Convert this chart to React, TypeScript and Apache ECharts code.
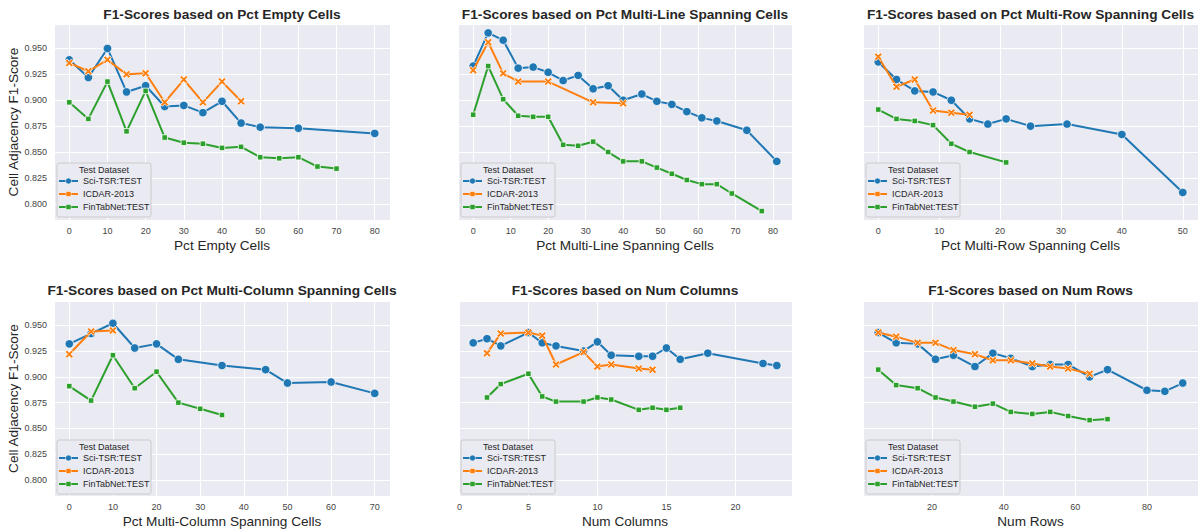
import React, { useEffect, useRef } from 'react';
import * as echarts from 'echarts';

// ---------- data ----------
const seriesNames = ['Sci-TSR:TEST', 'ICDAR-2013', 'FinTabNet:TEST'];
const panelTitles = [
  'F1-Scores based on Pct Empty Cells',
  'F1-Scores based on Pct Multi-Line Spanning Cells',
  'F1-Scores based on Pct Multi-Row Spanning Cells',
  'F1-Scores based on Pct Multi-Column Spanning Cells',
  'F1-Scores based on Num Columns',
  'F1-Scores based on Num Rows',
];
const xAxisNames = [
  'Pct Empty Cells',
  'Pct Multi-Line Spanning Cells',
  'Pct Multi-Row Spanning Cells',
  'Pct Multi-Column Spanning Cells',
  'Num Columns',
  'Num Rows',
];
const xTickSteps = [10, 10, 10, 10, 5, 20];
const yTickStep = 0.025;

// Panel 1: Pct Empty Cells
const p1SciX = [0, 5, 10, 15, 20, 25, 30, 35, 40, 45, 50, 60, 80];
const p1SciY = [0.939, 0.922, 0.95, 0.908, 0.914, 0.894, 0.895, 0.888, 0.899, 0.878, 0.874, 0.873, 0.868];
const p1IcdarX = [0, 5, 10, 15, 20, 25, 30, 35, 40, 45];
const p1IcdarY = [0.936, 0.928, 0.939, 0.925, 0.926, 0.898, 0.92, 0.898, 0.918, 0.899];
const p1FinX = [0, 5, 10, 15, 20, 25, 30, 35, 40, 45, 50, 55, 60, 65, 70];
const p1FinY = [0.898, 0.882, 0.918, 0.87, 0.909, 0.864, 0.859, 0.858, 0.854, 0.855, 0.845, 0.844, 0.845, 0.836, 0.834];

// Panel 2: Pct Multi-Line Spanning Cells
const p2SciX = [0, 4, 8, 12, 16, 20, 24, 28, 32, 36, 40, 45, 49, 53, 57, 61, 65, 73, 81];
const p2SciY = [0.933, 0.965, 0.958, 0.931, 0.932, 0.927, 0.919, 0.924, 0.911, 0.914, 0.9, 0.906, 0.899, 0.896, 0.889, 0.883, 0.88, 0.871, 0.841];
const p2IcdarX = [0, 4, 8, 12, 20, 32, 40];
const p2IcdarY = [0.929, 0.956, 0.926, 0.918, 0.918, 0.898, 0.897];
const p2FinX = [0, 4, 8, 12, 16, 20, 24, 28, 32, 36, 40, 45, 49, 53, 57, 61, 65, 69, 77];
const p2FinY = [0.886, 0.933, 0.901, 0.885, 0.884, 0.884, 0.857, 0.856, 0.86, 0.85, 0.841, 0.841, 0.835, 0.829, 0.823, 0.819, 0.819, 0.81, 0.793];

// Panel 3: Pct Multi-Row Spanning Cells
const p3SciX = [0, 3, 6, 9, 12, 15, 18, 21, 25, 31, 40, 50];
const p3SciY = [0.937, 0.92, 0.909, 0.908, 0.9, 0.882, 0.877, 0.882, 0.875, 0.877, 0.867, 0.811];
const p3IcdarX = [0, 3, 6, 9, 12, 15];
const p3IcdarY = [0.942, 0.913, 0.92, 0.89, 0.888, 0.886];
const p3FinX = [0, 3, 6, 9, 12, 15, 21];
const p3FinY = [0.891, 0.882, 0.88, 0.876, 0.858, 0.85, 0.84];

// Panel 4: Pct Multi-Column Spanning Cells
const p4SciX = [0, 5, 10, 15, 20, 25, 35, 45, 50, 60, 70];
const p4SciY = [0.932, 0.942, 0.952, 0.928, 0.932, 0.917, 0.911, 0.907, 0.894, 0.895, 0.884];
const p4IcdarX = [0, 5, 10];
const p4IcdarY = [0.922, 0.944, 0.945];
const p4FinX = [0, 5, 10, 15, 20, 25, 30, 35];
const p4FinY = [0.891, 0.877, 0.921, 0.889, 0.905, 0.875, 0.869, 0.863];

// Panel 5: Num Columns
const p5SciX = [1, 2, 3, 5, 6, 7, 9, 10, 11, 13, 14, 15, 16, 18, 22, 23];
const p5SciY = [0.933, 0.937, 0.93, 0.943, 0.933, 0.93, 0.925, 0.934, 0.921, 0.92, 0.92, 0.928, 0.917, 0.923, 0.913, 0.911];
const p5IcdarX = [2, 3, 5, 6, 7, 9, 10, 11, 13, 14];
const p5IcdarY = [0.923, 0.942, 0.943, 0.94, 0.912, 0.924, 0.91, 0.912, 0.908, 0.907];
const p5FinX = [2, 3, 5, 6, 7, 9, 10, 11, 13, 14, 15, 16];
const p5FinY = [0.88, 0.893, 0.903, 0.881, 0.876, 0.876, 0.88, 0.878, 0.868, 0.87, 0.868, 0.87];

// Panel 6: Num Rows
const p6SciX = [5, 10, 16, 21, 26, 32, 37, 42, 48, 53, 58, 64, 69, 80, 85, 90];
const p6SciY = [0.943, 0.933, 0.932, 0.917, 0.921, 0.91, 0.923, 0.918, 0.91, 0.912, 0.912, 0.9, 0.907, 0.887, 0.886, 0.894];
const p6IcdarX = [5, 10, 16, 21, 26, 32, 37, 42, 48, 53, 58, 64];
const p6IcdarY = [0.943, 0.939, 0.933, 0.933, 0.926, 0.922, 0.916, 0.916, 0.913, 0.91, 0.908, 0.903];
const p6FinX = [5, 10, 16, 21, 26, 32, 37, 42, 48, 53, 58, 64, 69];
const p6FinY = [0.907, 0.892, 0.889, 0.88, 0.876, 0.871, 0.874, 0.866, 0.864, 0.866, 0.862, 0.858, 0.859];

const panels = [
  [[p1SciX, p1SciY], [p1IcdarX, p1IcdarY], [p1FinX, p1FinY]],
  [[p2SciX, p2SciY], [p2IcdarX, p2IcdarY], [p2FinX, p2FinY]],
  [[p3SciX, p3SciY], [p3IcdarX, p3IcdarY], [p3FinX, p3FinY]],
  [[p4SciX, p4SciY], [p4IcdarX, p4IcdarY], [p4FinX, p4FinY]],
  [[p5SciX, p5SciY], [p5IcdarX, p5IcdarY], [p5FinX, p5FinY]],
  [[p6SciX, p6SciY], [p6IcdarX, p6IcdarY], [p6FinX, p6FinY]],
];

// ---------- styling / layout ----------
const COLORS = ['#1f77b4', '#ff7f0e', '#2ca02c'];
const FONT = '"Liberation Sans", Arial, sans-serif';
const TEXT = '#262626';
const TICK = '#444444';
const BG = '#EAEAF2';
const X_SYMBOL = 'path://M2.2,0 L5,2.8 L7.8,0 L10,2.2 L7.2,5 L10,7.8 L7.8,10 L5,7.2 L2.2,10 L0,7.8 L2.8,5 L0,2.2 Z';
const SYMBOLS = ['circle', X_SYMBOL, 'rect'];
const SYMBOL_SIZES = [8.5, 8, 5.5];

const colLeft = [54, 458, 863];
const colWidth = [336, 334, 335];
const rowTop = [24, 301];
const rowHeight = 196;
const titleY = [14, 290];

function isMultiple(v: number, step: number) {
  const r = v / step;
  return Math.abs(r - Math.round(r)) < 1e-6;
}

function paddedExtent(values: number[]) {
  const mn = Math.min(...values);
  const mx = Math.max(...values);
  const pad = (mx - mn) * 0.05;
  return [mn - pad, mx + pad];
}

function buildOption() {
  const allY: number[] = [];
  panels.forEach((p) => p.forEach((s) => allY.push(...s[1])));
  const yExt = paddedExtent(allY);

  const grid: any[] = [];
  const xAxis: any[] = [];
  const yAxis: any[] = [];
  const series: any[] = [];
  const graphic: any[] = [];
  const Z = 100;

  panels.forEach((panel, i) => {
    const row = Math.floor(i / 3);
    const col = i % 3;
    const left = colLeft[col];
    const width = colWidth[col];
    const top = rowTop[row];
    grid.push({
      left, top, width, height: rowHeight,
      show: true, backgroundColor: BG, borderWidth: 0, containLabel: false,
    });
    const allX: number[] = [];
    panel.forEach((s) => allX.push(...s[0]));
    const xExt = paddedExtent(allX);
    const step = xTickSteps[i];
    xAxis.push({
      type: 'value', gridIndex: i, min: xExt[0], max: xExt[1],
      minInterval: step, maxInterval: step,
      name: xAxisNames[i], nameLocation: 'middle', nameGap: 18,
      nameTextStyle: { fontFamily: FONT, fontSize: 13.6, color: TEXT },
      axisLine: { show: false }, axisTick: { show: false },
      axisLabel: {
        show: true, margin: 6, fontFamily: FONT, fontSize: 9, color: TICK,
        showMinLabel: false, showMaxLabel: false,
        formatter: (v: number) => (isMultiple(v, step) ? String(Math.round(v)) : ''),
      },
      splitLine: { show: true, lineStyle: { color: '#ffffff', width: 1 } },
    });
    yAxis.push({
      type: 'value', gridIndex: i, min: yExt[0], max: yExt[1],
      minInterval: yTickStep, maxInterval: yTickStep,
      name: col === 0 ? 'Cell Adjacency F1-Score' : '',
      nameLocation: 'middle', nameGap: 34,
      nameTextStyle: { fontFamily: FONT, fontSize: 13.6, color: TEXT },
      axisLine: { show: false }, axisTick: { show: false },
      axisLabel: {
        show: col === 0, margin: 7, fontFamily: FONT, fontSize: 9, color: TICK,
        showMinLabel: false, showMaxLabel: false,
        formatter: (v: number) => (isMultiple(v, yTickStep) ? v.toFixed(3) : ''),
      },
      splitLine: { show: true, lineStyle: { color: '#ffffff', width: 1 } },
    });
    panel.forEach((s, k) => {
      series.push({
        type: 'line', name: seriesNames[k], xAxisIndex: i, yAxisIndex: i,
        data: s[0].map((x, j) => [x, s[1][j]]),
        symbol: SYMBOLS[k], symbolSize: SYMBOL_SIZES[k], showSymbol: true,
        lineStyle: { color: COLORS[k], width: 2 },
        itemStyle: { color: COLORS[k], borderColor: '#ffffff', borderWidth: 0.8 },
        emphasis: { disabled: true }, silent: true, z: 2 + k,
      });
    });

    // title
    graphic.push({
      type: 'text', x: left + width / 2, y: titleY[row], z: Z,
      style: { text: panelTitles[i], align: 'center', verticalAlign: 'middle', font: `bold 13.7px ${FONT}`, fill: TEXT },
    });

    // legend
    const bx = left + 3;
    const by = top + rowHeight - 57;
    graphic.push({ type: 'rect', z: Z, shape: { x: bx, y: by, width: 94, height: 54, r: 2 }, style: { fill: BG, stroke: '#cccccc', lineWidth: 1 } });
    graphic.push({ type: 'text', z: Z + 1, x: bx + 47, y: by + 7, style: { text: 'Test Dataset', align: 'center', verticalAlign: 'middle', font: `9px ${FONT}`, fill: TEXT } });
    const rowsY = [18, 31, 44];
    seriesNames.forEach((nm, k) => {
      const yy = by + rowsY[k];
      graphic.push({ type: 'line', z: Z + 1, shape: { x1: bx + 2, y1: yy, x2: bx + 21, y2: yy }, style: { stroke: COLORS[k], lineWidth: 2 } });
      if (k === 0) {
        graphic.push({ type: 'circle', z: Z + 2, shape: { cx: bx + 11.5, cy: yy, r: 3 }, style: { fill: COLORS[k], stroke: '#fff', lineWidth: 0.5 } });
      } else {
        graphic.push({ type: 'rect', z: Z + 2, shape: { x: bx + 9, y: yy - 2.5, width: 5, height: 5 }, style: { fill: COLORS[k], stroke: '#fff', lineWidth: 0.5 } });
      }
      graphic.push({ type: 'text', z: Z + 1, x: bx + 26, y: yy, style: { text: nm, align: 'left', verticalAlign: 'middle', font: `9px ${FONT}`, fill: TEXT } });
    });
  });

  return {
    animation: false,
    backgroundColor: '#ffffff',
    grid, xAxis, yAxis, series, graphic,
  };
}

export default function App() {
  const ref = useRef<HTMLDivElement>(null);
  useEffect(() => {
    document.body.style.margin = '0';
    const chart = echarts.init(ref.current as HTMLDivElement, null, { renderer: 'svg' });
    chart.setOption(buildOption() as any);
    return () => chart.dispose();
  }, []);
  return <div ref={ref} style={{ width: 1200, height: 529, position: 'absolute', left: 0, top: 0, background: '#fff' }} />;
}
